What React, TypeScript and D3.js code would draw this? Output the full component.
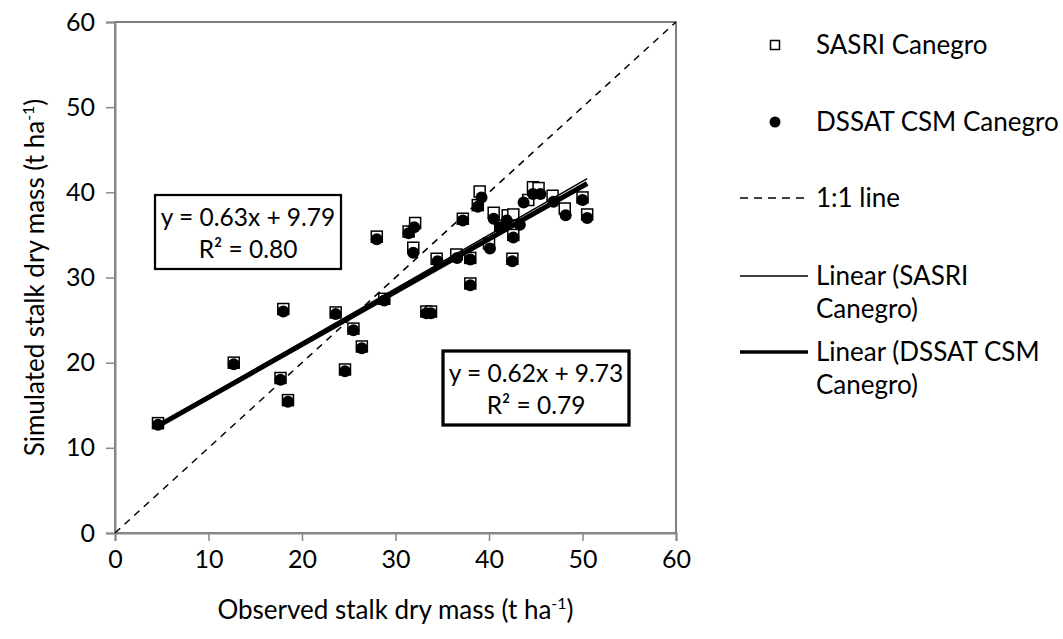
import React, { useRef, useEffect } from "react";
import * as d3 from "d3";

// observed (x) vs simulated (y) stalk dry mass, t/ha
const dssatObs = [4.6, 12.7, 17.7, 18.0, 18.5, 23.6, 24.6, 25.5, 26.4, 28.0, 28.8, 31.4, 31.9, 32.0, 33.3, 33.8, 34.5, 36.6, 37.2, 38.0, 38.0, 38.8, 39.2, 40.1, 40.5, 41.2, 41.9, 42.5, 42.6, 43.3, 43.7, 44.7, 45.5, 46.9, 48.2, 50.0, 50.5];
const dssatSim = [12.7, 19.8, 18.0, 26.0, 15.4, 25.7, 19.0, 23.8, 21.7, 34.5, 27.3, 35.2, 32.9, 35.9, 25.8, 25.8, 31.9, 32.3, 36.7, 32.1, 29.1, 38.3, 39.4, 33.4, 36.9, 35.9, 36.7, 31.9, 34.7, 36.2, 38.8, 39.8, 39.8, 38.9, 37.3, 39.1, 37.0];
const sasriObs = [4.6, 12.7, 17.7, 18.0, 18.5, 23.6, 24.6, 25.5, 26.4, 28.0, 28.8, 31.4, 31.9, 32.1, 33.3, 33.8, 34.4, 36.5, 37.2, 38.0, 38.0, 38.8, 39.0, 40.0, 40.5, 41.2, 42.0, 42.5, 42.6, 42.6, 44.2, 44.7, 45.3, 46.8, 48.1, 50.0, 50.5];
const sasriSim = [12.9, 20.0, 18.2, 26.3, 15.6, 25.9, 19.2, 24.0, 21.9, 34.8, 27.5, 35.4, 33.5, 36.4, 26.0, 26.0, 32.2, 32.7, 36.9, 32.3, 29.3, 38.5, 40.1, 34.0, 37.6, 36.1, 37.3, 32.2, 35.0, 37.4, 39.1, 40.6, 40.5, 39.6, 38.1, 39.4, 37.4];

const axisTicks = [0, 10, 20, 30, 40, 50, 60];
const fits = [
  { name: "Linear (SASRI Canegro)", slope: 0.63, intercept: 9.79, r2: "0.80" },
  { name: "Linear (DSSAT CSM Canegro)", slope: 0.62, intercept: 9.73, r2: "0.79" },
];

const App = () => {
  const chartRef = useRef<HTMLDivElement>(null);

  useEffect(() => {
    const width = 1063;
    const height = 639;
    const font = "Lato, 'Open Sans', sans-serif";
    const tickFs = 25;
    const titleFs = 26;
    const legFs = 26;
    const eqFs = 24.5;

    const x = d3.scaleLinear().domain([0, 60]).range([115, 676]);
    const y = d3.scaleLinear().domain([0, 60]).range([533, 22]);

    const svg = d3.create("svg")
      .attr("width", width)
      .attr("height", height)
      .attr("viewBox", [0, 0, width, height])
      .style("display", "block")
      .style("font-family", font);

    svg.append("rect").attr("width", width).attr("height", height).attr("fill", "white");

    // plot area border
    svg.append("rect")
      .attr("x", x(0)).attr("y", y(60))
      .attr("width", x(60) - x(0)).attr("height", y(0) - y(60))
      .attr("fill", "none").attr("stroke", "black").attr("stroke-width", 1);

    const xAxis = svg.append("g")
      .attr("transform", `translate(0,${y(0)})`)
      .call(d3.axisBottom(x).tickValues(axisTicks).tickSize(8).tickPadding(9).tickFormat(d3.format("d")));
    const yAxis = svg.append("g")
      .attr("transform", `translate(${x(0)},0)`)
      .call(d3.axisLeft(y).tickValues(axisTicks).tickSize(9).tickPadding(11).tickFormat(d3.format("d")));
    [xAxis, yAxis].forEach(g => {
      g.select(".domain").attr("stroke", "#888").attr("stroke-width", 2);
      g.selectAll(".tick line").attr("stroke", "#888").attr("stroke-width", 1.5);
      g.selectAll(".tick text").attr("fill", "black").style("font-size", `${tickFs}px`).style("font-family", font);
    });

    // 1:1 line
    svg.append("line")
      .attr("x1", x(0)).attr("y1", y(0)).attr("x2", x(60)).attr("y2", y(60))
      .attr("stroke", "black").attr("stroke-width", 1.5).attr("stroke-dasharray", "7,6");

    // SASRI markers: open squares
    const sq = 11;
    svg.append("g").selectAll("rect")
      .data(d3.range(sasriObs.length))
      .join("rect")
      .attr("x", i => x(sasriObs[i]) - sq / 2)
      .attr("y", i => y(sasriSim[i]) - sq / 2)
      .attr("width", sq).attr("height", sq)
      .attr("fill", "white").attr("stroke", "black").attr("stroke-width", 1.5);

    // DSSAT markers: filled circles
    svg.append("g").selectAll("circle")
      .data(d3.range(dssatObs.length))
      .join("circle")
      .attr("cx", i => x(dssatObs[i]))
      .attr("cy", i => y(dssatSim[i]))
      .attr("r", 6)
      .attr("fill", "black");

    // trend lines
    const xmin = d3.min(dssatObs);
    const xmax = d3.max(dssatObs);
    fits.forEach((f, k) => {
      svg.append("line")
        .attr("x1", x(xmin)).attr("y1", y(f.slope * xmin + f.intercept))
        .attr("x2", x(xmax)).attr("y2", y(f.slope * xmax + f.intercept))
        .attr("stroke", "black").attr("stroke-width", k === 0 ? 1.5 : 5);
    });

    // equation boxes
    const boxes = [
      { fit: fits[0], bx: 155, by: 195, sw: 2.25 },
      { fit: fits[1], bx: 443, by: 351, sw: 3.25 },
    ];
    boxes.forEach(b => {
      const g = svg.append("g").attr("transform", `translate(${b.bx},${b.by})`);
      g.append("rect").attr("width", 186).attr("height", 74)
        .attr("fill", "white").attr("stroke", "black").attr("stroke-width", b.sw);
      g.append("text").attr("x", 93).attr("y", 31).attr("text-anchor", "middle")
        .style("font-size", `${eqFs}px`)
        .text(`y = ${b.fit.slope.toFixed(2)}x + ${b.fit.intercept.toFixed(2)}`);
      g.append("text").attr("x", 93).attr("y", 63).attr("text-anchor", "middle")
        .style("font-size", `${eqFs}px`)
        .text(`R² = ${b.fit.r2}`);
    });

    // axis titles
    const xt = svg.append("text").attr("x", (x(0) + x(60)) / 2).attr("y", 619)
      .attr("text-anchor", "middle").style("font-size", `${titleFs}px`);
    xt.append("tspan").text("Observed stalk dry mass (t ha");
    xt.append("tspan").attr("dy", -10).style("font-size", "16px").text("-1");
    xt.append("tspan").attr("dy", 10).text(")");

    const yt = svg.append("text")
      .attr("transform", `translate(44,${(y(0) + y(60)) / 2}) rotate(-90)`)
      .attr("text-anchor", "middle").style("font-size", `${titleFs}px`);
    yt.append("tspan").text("Simulated stalk dry mass (t ha");
    yt.append("tspan").attr("dy", -10).style("font-size", "16px").text("-1");
    yt.append("tspan").attr("dy", 10).text(")");

    // legend
    const lx = 816;
    const leg = svg.append("g").style("font-size", `${legFs}px`);
    const row = (yy: number, lines: string[]) => {
      lines.forEach((t, i) => {
        leg.append("text").attr("x", lx).attr("y", yy + i * 33).attr("dy", "0.35em").text(t);
      });
    };
    leg.append("rect").attr("x", 770.5).attr("y", 40.5).attr("width", 9).attr("height", 9)
      .attr("fill", "white").attr("stroke", "black").attr("stroke-width", 1.5);
    row(45, ["SASRI Canegro"]);
    leg.append("circle").attr("cx", 775).attr("cy", 122).attr("r", 5.5).attr("fill", "black");
    row(122, ["DSSAT CSM Canegro"]);
    leg.append("line").attr("x1", 740).attr("x2", 804).attr("y1", 198).attr("y2", 198)
      .attr("stroke", "black").attr("stroke-width", 1.5).attr("stroke-dasharray", "8,6");
    row(198, ["1:1 line"]);
    leg.append("line").attr("x1", 740).attr("x2", 808).attr("y1", 276).attr("y2", 276)
      .attr("stroke", "black").attr("stroke-width", 1.5);
    row(276, ["Linear (SASRI", "Canegro)"]);
    leg.append("line").attr("x1", 740).attr("x2", 808).attr("y1", 352).attr("y2", 352)
      .attr("stroke", "black").attr("stroke-width", 3.5);
    row(352, ["Linear (DSSAT CSM", "Canegro)"]);

    chartRef.current!.innerHTML = "";
    chartRef.current!.appendChild(svg.node()!);
  }, []);

  return <div ref={chartRef} style={{ position: "absolute", left: 0, top: 0 }} />;
};

export default App;
